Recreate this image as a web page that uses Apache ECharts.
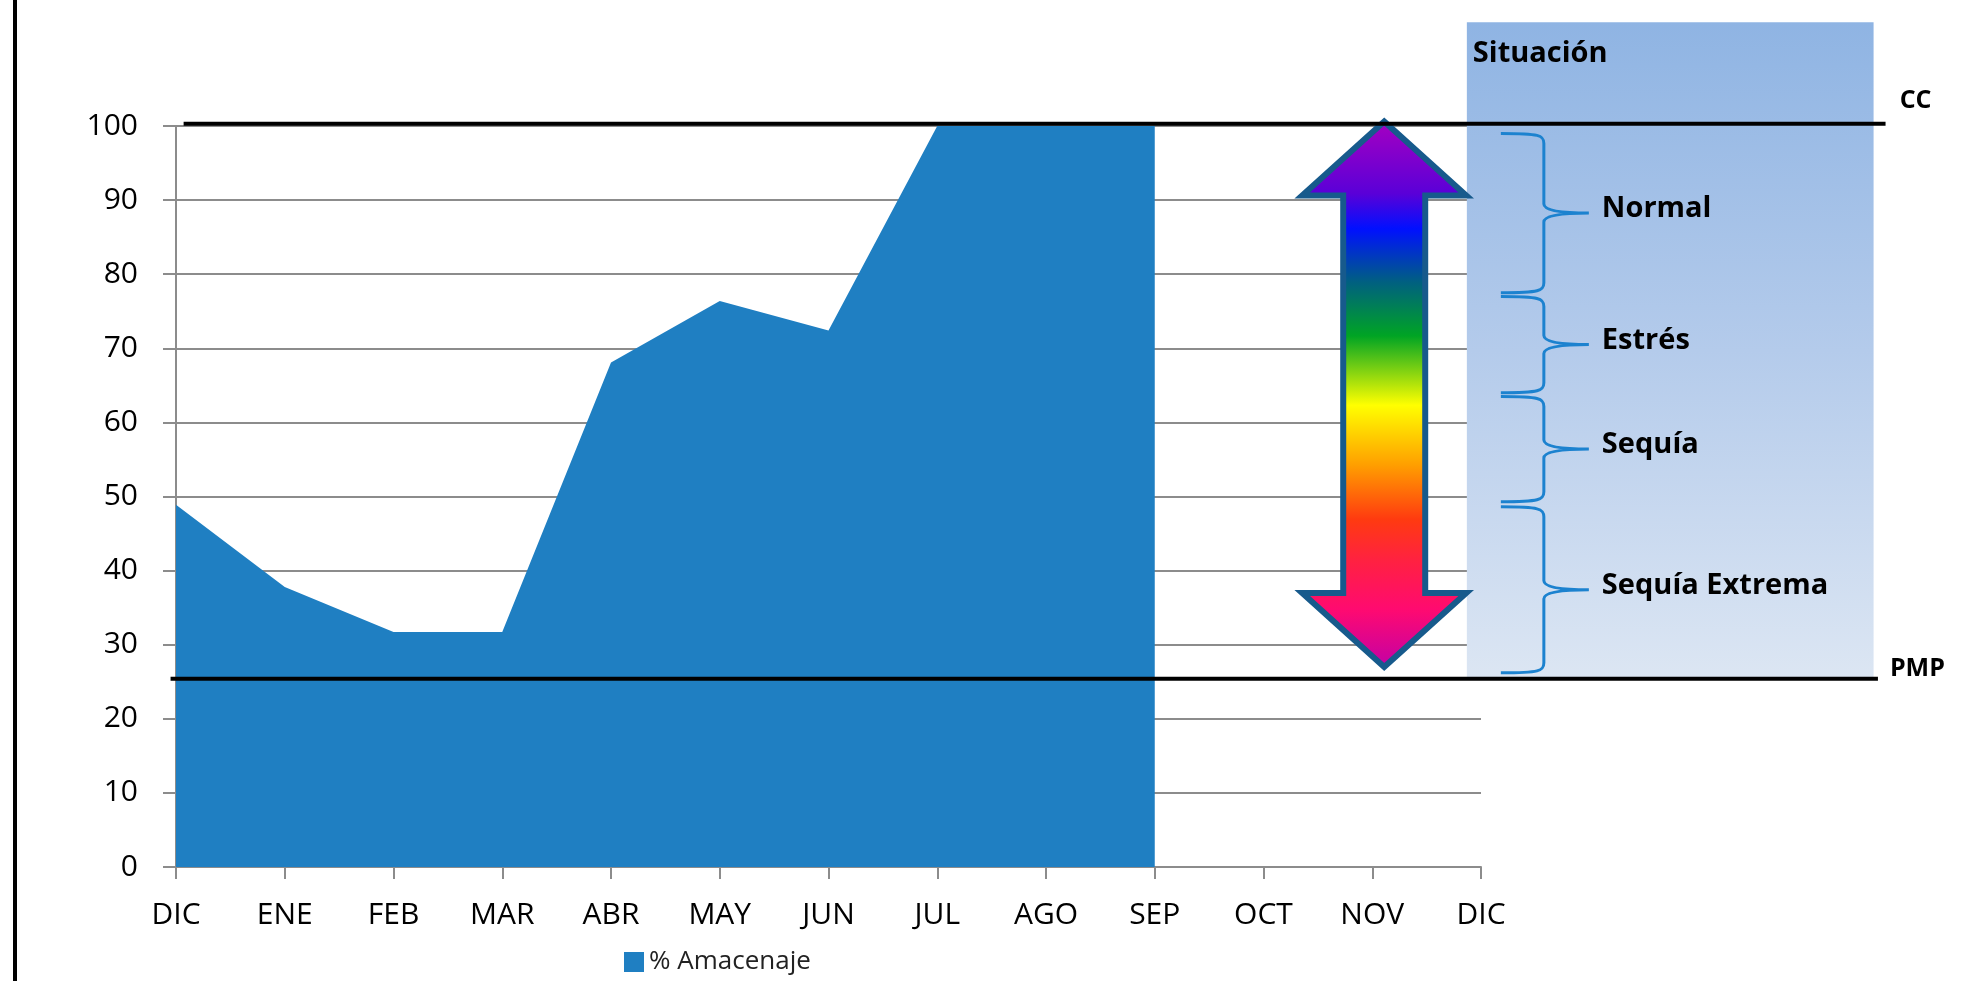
<!DOCTYPE html>
<html>
<head>
<meta charset="utf-8">
<style>html,body{margin:0;padding:0;background:#fff;}#c{width:1974px;height:981px;}</style>
<script src="https://cdn.jsdelivr.net/npm/echarts@6/dist/echarts.min.js"></script>
</head>
<body>
<div id="c"></div>
<script>
// ---- data ----
var months = ['DIC','ENE','FEB','MAR','ABR','MAY','JUN','JUL','AGO','SEP','OCT','NOV','DIC'];
var storage = [48.9, 37.8, 31.7, 31.7, 68.1, 76.4, 72.4, 100, 100, 100];
var seriesName = '% Amacenaje';
var ccLevel = 100.3;
var pmpLevel = 25.4;
var situations = [
  {name: 'Normal', top: 99, bottom: 77.5},
  {name: 'Estrés', top: 77, bottom: 64},
  {name: 'Sequía', top: 63.5, bottom: 49.3},
  {name: 'Sequía Extrema', top: 48.6, bottom: 26.2}
];
var boxTitle = 'Situación';
var boxRange = {x0: 11.87, x1: 15.61, top: 114};
var arrowSpec = {x: 11.11, top: 100.6, bottom: 27.0};
var ccLine = {x0: 0.07, x1: 15.72, labelX: 15.85, labelY: 103.4, text: 'CC'};
var pmpLine = {x0: -0.05, x1: 15.65, labelX: 15.76, labelY: 26.7, text: 'PMP'};

var FONT = '"Open Sans", "Liberation Sans", sans-serif';
var chart = echarts.init(document.getElementById('c'));

function renderAnnotations(params, api) {
  var children = [];
  // box
  var bTL = api.coord([boxRange.x0, boxRange.top]);
  var bBR = api.coord([boxRange.x1, pmpLevel]);
  children.push({
    type: 'rect',
    shape: {x: bTL[0], y: bTL[1], width: bBR[0] - bTL[0], height: bBR[1] - bTL[1]},
    style: {fill: new echarts.graphic.LinearGradient(0, 0, 0, 1, [
      {offset: 0, color: '#8fb4e3'},
      {offset: 0.5, color: '#b4cbeb'},
      {offset: 1, color: '#dce6f3'}
    ])}
  });
  children.push({
    type: 'text',
    style: {x: bTL[0] + 6, y: bTL[1] + 31, text: boxTitle, fill: '#000',
      font: 'bold 29px ' + FONT, textVerticalAlign: 'middle', textAlign: 'left'}
  });
  // braces
  var spineX = bTL[0] + 77, leftX = bTL[0] + 34, tipX = bTL[0] + 122;
  situations.forEach(function (s) {
    var yt = api.coord([0, s.top])[1];
    var yb = api.coord([0, s.bottom])[1];
    var ym = (yt + yb) / 2;
    var d = 'M' + leftX + ' ' + yt +
      ' C' + (spineX - 4) + ' ' + yt + ' ' + spineX + ' ' + (yt + 2) + ' ' + spineX + ' ' + (yt + 10) +
      ' L' + spineX + ' ' + (ym - 9) +
      ' Q' + spineX + ' ' + ym + ' ' + tipX + ' ' + ym +
      ' Q' + spineX + ' ' + ym + ' ' + spineX + ' ' + (ym + 9) +
      ' L' + spineX + ' ' + (yb - 10) +
      ' C' + spineX + ' ' + (yb - 2) + ' ' + (spineX - 4) + ' ' + yb + ' ' + leftX + ' ' + yb;
    children.push({
      type: 'path',
      shape: {pathData: d},
      style: {fill: null, stroke: '#1c82cf', lineWidth: 3}
    });
    children.push({
      type: 'text',
      style: {x: tipX + 13, y: ym - 4, text: s.name, fill: '#000',
        font: 'bold 29px ' + FONT, textVerticalAlign: 'middle', textAlign: 'left'}
    });
  });
  // arrow
  var aT = api.coord([arrowSpec.x, arrowSpec.top]);
  var aB = api.coord([arrowSpec.x, arrowSpec.bottom]);
  var cx = aT[0], hh = 74, hw = 82, sw = 41;
  children.push({
    type: 'polygon',
    shape: {points: [
      [cx, aT[1]], [cx + hw, aT[1] + hh], [cx + sw, aT[1] + hh], [cx + sw, aB[1] - hh],
      [cx + hw, aB[1] - hh], [cx, aB[1]], [cx - hw, aB[1] - hh], [cx - sw, aB[1] - hh],
      [cx - sw, aT[1] + hh], [cx - hw, aT[1] + hh]
    ]},
    style: {
      fill: new echarts.graphic.LinearGradient(0, 0, 0, 1, [
        {offset: 0, color: '#a800c0'},
        {offset: 0.136, color: '#5a00d8'},
        {offset: 0.2, color: '#0010ff'},
        {offset: 0.297, color: '#006080'},
        {offset: 0.394, color: '#00a424'},
        {offset: 0.52, color: '#ffff00'},
        {offset: 0.627, color: '#ffa000'},
        {offset: 0.727, color: '#ff3a10'},
        {offset: 0.8, color: '#ff2240'},
        {offset: 0.89, color: '#ff0a70'},
        {offset: 1, color: '#c000a8'}
      ]),
      stroke: '#175a8c', lineWidth: 6, lineJoin: 'miter'
    }
  });
  // CC and PMP lines
  [ccLine, pmpLine].forEach(function (ln, k) {
    var lvl = k === 0 ? ccLevel : pmpLevel;
    var p0 = api.coord([ln.x0, lvl]);
    var p1 = api.coord([ln.x1, lvl]);
    children.push({
      type: 'line',
      shape: {x1: p0[0], y1: p0[1], x2: p1[0], y2: p1[1]},
      style: {stroke: '#000', lineWidth: 4}
    });
    var pl = api.coord([ln.labelX, ln.labelY]);
    children.push({
      type: 'text',
      style: {x: pl[0], y: pl[1], text: ln.text, fill: '#000',
        font: 'bold 25px ' + FONT, textVerticalAlign: 'middle', textAlign: 'left'}
    });
  });
  return {type: 'group', children: children};
}

var option = {
  backgroundColor: '#ffffff',
  animation: false,
  textStyle: {fontFamily: FONT},
  graphic: [{type: 'rect', left: 13, top: 0, shape: {width: 4, height: 981}, style: {fill: '#000'}}],
  grid: {left: 176, right: 493, top: 126, bottom: 114, containLabel: false},
  legend: {
    show: true, data: [seriesName], icon: 'rect', itemWidth: 20, itemHeight: 20,
    left: 619, top: 944, textStyle: {fontSize: 26, color: '#222', fontFamily: FONT}
  },
  xAxis: {
    type: 'value', min: 0, max: 12, interval: 1,
    splitLine: {show: false},
    axisLine: {show: true, lineStyle: {color: '#8c8c8c', width: 2}},
    axisTick: {show: true, length: 12, lineStyle: {color: '#8c8c8c', width: 2}},
    axisLabel: {
      fontSize: 30, color: '#000', margin: 33, fontFamily: FONT,
      formatter: function (v) { return months[v]; }
    }
  },
  yAxis: {
    type: 'value', min: 0, max: 100, interval: 10,
    splitLine: {show: true, lineStyle: {color: '#8c8c8c', width: 2}},
    axisLine: {show: true, lineStyle: {color: '#8c8c8c', width: 2}},
    axisTick: {show: true, length: 13, lineStyle: {color: '#8c8c8c', width: 2}},
    axisLabel: {fontSize: 30, color: '#000', margin: 38, fontFamily: FONT}
  },
  series: [
    {
      name: seriesName, type: 'line', z: 2,
      data: storage.map(function (v, i) { return [i, v]; }),
      showSymbol: false, symbol: 'none',
      lineStyle: {width: 0, color: '#1f7fc2'},
      itemStyle: {color: '#1f7fc2'},
      areaStyle: {color: '#1f7fc2', opacity: 1}
    },
    {
      type: 'custom', z: 5, silent: true, clip: false,
      data: [[0, 0]],
      renderItem: renderAnnotations
    }
  ]
};
chart.setOption(option);
</script>
</body>
</html>
